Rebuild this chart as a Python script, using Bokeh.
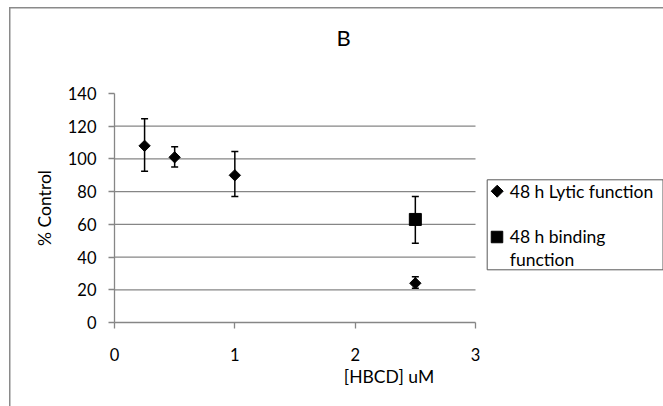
import math
from bokeh.plotting import figure
from bokeh.models import Whisker, ColumnDataSource, FixedTicker, Range1d, TeeHead, Title
from bokeh.core.properties import value
from bokeh.embed import file_html
from bokeh.resources import INLINE

# ---- data ----
lytic_x = [0.25, 0.5, 1.0, 2.5]
lytic_y = [108, 101, 90, 24]
lytic_upper = [124.5, 107.5, 104.5, 28]
lytic_lower = [92.5, 95, 77, 21]

binding_x = [2.5]
binding_y = [63]
binding_upper = [77]
binding_lower = [48.5]

x_ticks = [0, 1, 2, 3]
y_ticks = [0, 20, 40, 60, 80, 100, 120, 140]
grid_ticks = [20, 40, 60, 80, 100, 120]

title_text = "B"
x_label = "[HBCD] uM"
y_label = "% Control"
lytic_name = "48 h Lytic function"
binding_name_1 = "48 h binding"
binding_name_2 = "function"

# ---- layout (pixels) ----
W, H = 663, 406
FRAME_L, FRAME_T, FRAME_B = 114, 93, 322
PLOT_R = 475                      # pixel where x = 3 lies
FONT = "Lato"
GRAY = "#868686"
FRAME_GRAY = "#8a8a8a"

x_min, x_max = x_ticks[0], x_ticks[-1]
y_min, y_max = y_ticks[0], y_ticks[-1]
x_end = x_min + (x_max - x_min) * (W - FRAME_L) / (PLOT_R - FRAME_L)

outer_border_css = (
    f"linear-gradient({FRAME_GRAY},{FRAME_GRAY}) 9px 7px / 1.5px 399px no-repeat, "
    f"linear-gradient({FRAME_GRAY},{FRAME_GRAY}) 9px 7px / 654px 1.5px no-repeat, white"
)

p = figure(width=W, height=H, output_backend="svg", toolbar_location=None,
           x_range=Range1d(x_min, x_end), y_range=Range1d(y_min, y_max),
           min_border_left=FRAME_L, min_border_right=0,
           min_border_top=FRAME_T, min_border_bottom=H - FRAME_B,
           title_location=None)
# pixel coordinate ranges for the legend (y measured from the top)
p.extra_x_ranges = {"px": Range1d(FRAME_L, W)}
p.extra_y_ranges = {"px": Range1d(FRAME_B, FRAME_T)}

p.background_fill_color = None
p.border_fill_color = None
p.outline_line_color = None
p.styles = {"background": outer_border_css}

# title: a blank spacer title next to the frame, then the real title above it
spacer = Title(text=" ", text_font_size="10px", standoff=30)
p.add_layout(spacer, "above")
main_title = Title(text=title_text, text_font=FONT, text_font_size="22px",
                   text_font_style="normal", text_color="black",
                   align="left", offset=222, standoff=0)
p.add_layout(main_title, "above")

# axes
for ax in (p.xaxis[0], p.yaxis[0]):
    ax.axis_line_color = GRAY
    ax.axis_line_width = 1.3
    ax.major_tick_line_color = GRAY
    ax.major_tick_line_width = 1.3
    ax.major_tick_in = 0
    ax.major_tick_out = 6
    ax.minor_tick_line_color = None
    ax.major_label_text_font = FONT
    ax.major_label_text_font_size = "16.5px"
    ax.major_label_text_color = "black"
    ax.axis_label_text_font = FONT
    ax.axis_label_text_font_size = "17.5px"
    ax.axis_label_text_font_style = "normal"
    ax.axis_label_text_color = "black"

p.xaxis.ticker = FixedTicker(ticks=x_ticks)
p.yaxis.ticker = FixedTicker(ticks=y_ticks)
p.xaxis.bounds = (x_min, x_max)
p.yaxis.bounds = (y_min, y_max)
p.xaxis.axis_label = x_label
p.yaxis.axis_label = y_label
p.xaxis.major_label_standoff = 19
p.xaxis.axis_label_standoff = 2
p.yaxis.major_label_standoff = 12
p.yaxis.axis_label_standoff = 10

p.xgrid.visible = False
p.ygrid.visible = False
# horizontal gridlines, only across the plot area (x from 0 to 3)
p.segment(x0=[x_min] * len(grid_ticks), x1=[x_max] * len(grid_ticks),
          y0=grid_ticks, y1=grid_ticks, line_color=GRAY, line_width=1.3)

# error bars
src_l = ColumnDataSource(dict(x=lytic_x, y=lytic_y, upper=lytic_upper, lower=lytic_lower))
src_b = ColumnDataSource(dict(x=binding_x, y=binding_y, upper=binding_upper, lower=binding_lower))
for src in (src_l, src_b):
    w = Whisker(source=src, base="x", upper="upper", lower="lower",
                line_color="black", line_width=1.5,
                upper_head=TeeHead(size=7, line_color="black", line_width=1.5),
                lower_head=TeeHead(size=7, line_color="black", line_width=1.5))
    w.level = "glyph"
    p.add_layout(w)

p.scatter("x", "y", source=src_l, marker="square", angle=math.pi / 4, size=8,
          fill_color="black", line_color="black")
p.scatter("x", "y", source=src_b, marker="square", size=12,
          fill_color="black", line_color="black")

# ---- legend (drawn in pixel coordinates) ----
LG_L, LG_R, LG_T, LG_B = 486.7, 662.5, 179.3, 269.3
p.quad(left=[LG_L], right=[LG_R], top=[LG_T], bottom=[LG_B],
       fill_color="white", line_color="#595959", line_width=1,
       x_range_name="px", y_range_name="px")
p.scatter(x=[496.7], y=[190.7], marker="square", angle=math.pi / 4, size=8.5,
          fill_color="black", line_color="black", x_range_name="px", y_range_name="px")
p.scatter(x=[496.5], y=[236.5], marker="square", size=11.5,
          fill_color="black", line_color="black", x_range_name="px", y_range_name="px")
p.text(x=[509.3, 509.3, 509.3], y=[190.7, 235.5, 259],
       text=[lytic_name, binding_name_1, binding_name_2],
       text_font=value(FONT), text_font_size="17.5px", text_color="black",
       text_baseline="middle", text_align="left",
       x_range_name="px", y_range_name="px")

open("out.html", "w").write(file_html(p, INLINE))
